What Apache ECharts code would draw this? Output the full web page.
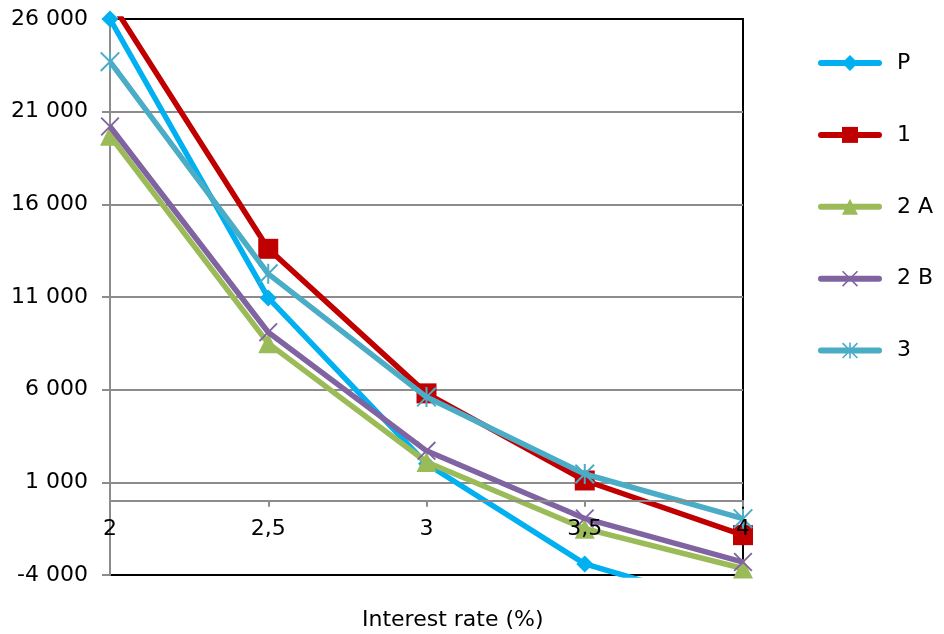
<!DOCTYPE html>
<html>
<head>
<meta charset="utf-8">
<script src="https://cdn.jsdelivr.net/npm/echarts@6/dist/echarts.min.js"></script>
<style>
html,body{margin:0;padding:0;background:#fff;}
#chart{width:944px;height:634px;}
</style>
</head>
<body>
<div id="chart"></div>
<script>
// ---- data ----
const rates = [2, 2.5, 3, 3.5, 4];
const seriesNames = ['P', '1', '2 A', '2 B', '3'];
const valuesP  = [26000, 10950, 2000, -3400, -5900];
const values1  = [27000, 13600, 5800, 1100, -1850];
const values2A = [19700, 8500, 2100, -1500, -3650];
const values2B = [20200, 9100, 2700, -950, -3300];
const values3  = [23700, 12250, 5600, 1450, -960];
const yTicks = [-4000, 1000, 6000, 11000, 16000, 21000, 26000];
const xAxisTitle = 'Interest rate (%)';

const FONT = 'DejaVu Sans';
const colors = ['#00B0F0', '#C00000', '#9BBB59', '#8064A2', '#4BACC6'];
const xPath = 'path://M0,0.7 L0.7,0 L10,9.3 L9.3,10 Z M9.3,0 L10,0.7 L0.7,10 L0,9.3 Z';
const starPath = 'path://M0,0.7 L0.7,0 L10,9.3 L9.3,10 Z M9.3,0 L10,0.7 L0.7,10 L0,9.3 Z M4.5,0 L5.5,0 L5.5,10 L4.5,10 Z';
const symbols = ['diamond', 'rect', 'triangle', xPath, starPath];
const symbolSizes = [17, 20, 20, 19, 20];
const allValues = [valuesP, values1, values2A, values2B, values3];

function fmtThousands(v) {
  return String(v).replace(/\B(?=(\d{3})+(?!\d))/g, ' ');
}

const GRID = {left: 110, right: 201, top: 19, bottom: 59};
const plotH = 634 - GRID.top - GRID.bottom;
const yMin = yTicks[0], yMax = yTicks[yTicks.length - 1];
// place the horizontal axis (with its labels) on the zero line
const zeroOffset = -(0 - yMin) / (yMax - yMin) * plotH;

const chart = echarts.init(document.getElementById('chart'), null, {renderer: 'canvas'});
const option = {
  animation: false,
  backgroundColor: '#fff',
  title: {
    text: xAxisTitle,
    left: 362,
    top: 609,
    padding: 0,
    textStyle: {fontFamily: FONT, fontSize: 22, fontWeight: 'normal', color: '#000'}
  },
  legend: {
    orient: 'vertical',
    left: 818,
    top: 52,
    padding: 0,
    itemWidth: 58,
    itemHeight: 20,
    itemGap: 49.9,
    selectedMode: false,
    data: seriesNames,
    lineStyle: {width: 6, cap: 'round'},
    textStyle: {fontFamily: FONT, fontSize: 22, color: '#000', lineHeight: 20, padding: [0, 0, 0, 13]}
  },
  grid: Object.assign({show: true, borderColor: '#000', borderWidth: 2, backgroundColor: 'transparent'}, GRID),
  xAxis: {
    type: 'value',
    min: 2, max: 4, interval: 0.5,
    offset: zeroOffset,
    z: 10,
    axisLine: {onZero: false, lineStyle: {color: '#8c8c8c', width: 2}},
    axisTick: {show: true, length: 6, lineStyle: {color: '#8c8c8c', width: 2}},
    splitLine: {show: false},
    axisLabel: {
      fontFamily: FONT, fontSize: 22, color: '#000', margin: 17,
      formatter: v => String(v).replace('.', ',')
    }
  },
  yAxis: {
    type: 'value',
    min: yMin, max: yMax, interval: 5000,
    axisLine: {show: true, onZero: false, lineStyle: {color: '#8c8c8c', width: 2}},
    axisTick: {show: true, length: 8, lineStyle: {color: '#8c8c8c', width: 2}},
    splitLine: {show: true, showMinLine: false, showMaxLine: false, lineStyle: {color: '#8c8c8c', width: 2}},
    axisLabel: {fontFamily: FONT, fontSize: 22, color: '#000', margin: 22, formatter: fmtThousands}
  },
  series: seriesNames.map((name, i) => ({
    name: name,
    type: 'line',
    data: rates.map((r, j) => [r, allValues[i][j]]),
    symbol: symbols[i],
    symbolSize: symbolSizes[i],
    showAllSymbol: true,
    clip: true,
    color: colors[i],
    itemStyle: {color: colors[i]},
    lineStyle: {color: colors[i], width: 5.5},
    emphasis: {disabled: true},
    z: 2 + i
  }))
};
chart.setOption(option);
</script>
</body>
</html>
